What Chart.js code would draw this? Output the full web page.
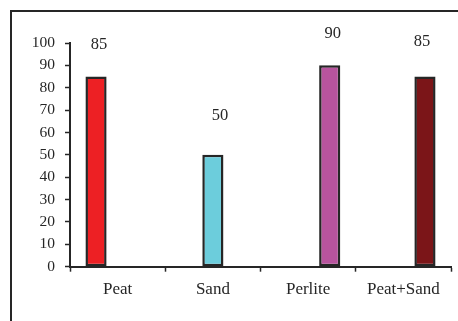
<!DOCTYPE html>
<html>
<head>
<meta charset="utf-8">
<style>
  html, body { margin: 0; padding: 0; background: #ffffff; }
  #wrap { width: 458px; height: 321px; position: relative; }
</style>
<script src="https://cdn.jsdelivr.net/npm/chart.js@4/dist/chart.umd.min.js"></script>
</head>
<body>
<div id="wrap"><canvas id="chart" width="458" height="321"></canvas></div>
<script>
// Substrate categories and their values
const categories = ['Peat', 'Sand', 'Perlite', 'Peat+Sand'];
const values = [85, 50, 90, 85];
const yTicks = [0, 10, 20, 30, 40, 50, 60, 70, 80, 90, 100];

// Bar fills per substrate
const barColors = ['#ED2024', '#6CCDDC', '#B8549E', '#7B1518'];
// Group slot each bar sits in (three slots per category)
const slotOf = [0, 1, 2, 2];
// Small nudges for the value labels: [dx, distance above bar top]
const labelNudge = [[3, 32], [7, 39], [3, 32], [-3, 35]];

const INK = '#262626';
const FONT = '"Liberation Serif", "Times New Roman", serif';

// One dataset per slot; each holds values only where that slot is used
const datasets = [0, 1, 2].map(slot => ({
  data: categories.map((c, i) => slotOf[i] === slot ? values[i] : null),
  backgroundColor: categories.map((c, i) => barColors[i]),
  borderColor: INK,
  borderWidth: 2.5,
  borderSkipped: false,
  categoryPercentage: 0.68,
  barPercentage: 0.98
}));

// Frame around the chart (top and left edges fall inside the page)
const framePlugin = {
  id: 'frame',
  beforeDraw(chart) {
    const ctx = chart.ctx;
    ctx.save();
    ctx.strokeStyle = INK;
    ctx.lineWidth = 2;
    ctx.strokeRect(11, 11, 470, 340);
    ctx.restore();
  }
};

// Value labels above the bars
const valueLabels = {
  id: 'valueLabels',
  afterDatasetsDraw(chart) {
    const ctx = chart.ctx;
    ctx.save();
    ctx.fillStyle = INK;
    ctx.font = '16.5px ' + FONT;
    ctx.textAlign = 'center';
    ctx.textBaseline = 'middle';
    chart.data.datasets.forEach((ds, di) => {
      const meta = chart.getDatasetMeta(di);
      ds.data.forEach((v, i) => {
        if (v === null) return;
        const el = meta.data[i];
        const n = labelNudge[i];
        ctx.fillText(String(v), el.x + n[0], el.y - n[1]);
      });
    });
    ctx.restore();
  }
};

new Chart(document.getElementById('chart'), {
  type: 'bar',
  data: { labels: categories, datasets },
  plugins: [framePlugin, valueLabels],
  options: {
    responsive: false,
    animation: false,
    layout: { padding: { left: 0, right: 7, top: 43, bottom: 0 } },
    plugins: { legend: { display: false }, tooltip: { enabled: false } },
    scales: {
      x: {
        grid: {
          display: true,
          drawOnChartArea: false,
          drawTicks: true,
          tickLength: 5,
          tickColor: INK,
          tickWidth: 1.5,
          offset: true
        },
        border: { display: true, color: INK, width: 2 },
        ticks: {
          color: INK,
          font: { family: FONT, size: 17 },
          padding: 8,
          maxRotation: 0
        },
        afterFit(scale) { scale.height = 54.3; }
      },
      y: {
        min: 0,
        max: 100,
        afterBuildTicks(scale) { scale.ticks = yTicks.map(v => ({ value: v })); },
        grid: {
          display: true,
          drawOnChartArea: false,
          drawTicks: true,
          tickLength: 5,
          tickColor: INK,
          tickWidth: 1.5
        },
        border: { display: true, color: INK, width: 2 },
        ticks: {
          color: INK,
          font: { family: FONT, size: 15.5 },
          padding: 10
        },
        afterFit(scale) { scale.width = 70; }
      }
    }
  }
});
</script>
</body>
</html>
